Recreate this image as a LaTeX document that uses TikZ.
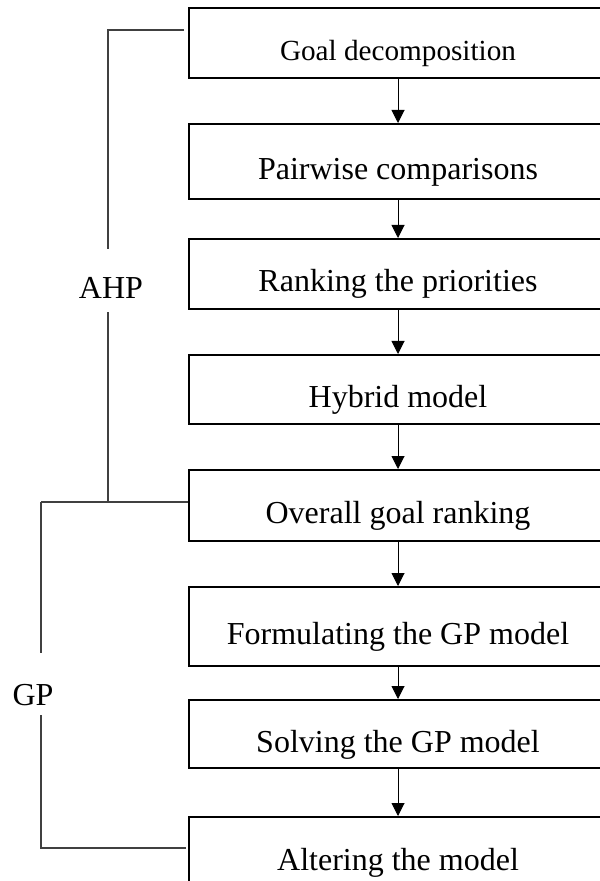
\documentclass[tikz,border=0pt]{standalone}
\usepackage{fontspec}
\setmainfont{Liberation Serif}
\usetikzlibrary{positioning}
\usetikzlibrary{arrows.meta}

\begin{document}
\begin{tikzpicture}[stage/.style={draw, line width=1pt, fill=white, minimum width=209pt, minimum height=35pt, text height=18pt, text depth=0pt, font=\fontsize{16}{19}\selectfont}, flow/.style={-{Triangle[length=6.5pt,width=6.5pt]}, line width=0.5pt}, brace/.style={draw=black!75, line width=0.6pt}, tag/.style={font=\fontsize{16}{19}\selectfont, inner sep=0pt, minimum height=31.5pt, text height=18pt, text depth=0pt}]
	\useasboundingbox (0,0) rectangle (299.5pt,-440.5pt);
	% the steps
	\node [stage, anchor=north, font=\fontsize{14.6}{17}\selectfont] (goal) at (199pt,-3.5pt) {Goal decomposition};
	\node [stage, below=22pt of goal, minimum height=37.5pt] (pair) {Pairwise comparisons};
	\node [stage, below=19pt of pair] (rank) {Ranking the priorities};
	\node [stage, below=22pt of rank, minimum height=34.5pt] (hybrid) {Hybrid model};
	\node [stage, below=22pt of hybrid, minimum height=35.5pt] (overall) {Overall goal ranking};
	\node [stage, below=22pt of overall, minimum height=39.5pt] (form) {Formulating the GP model};
	\node [stage, below=16pt of form, minimum height=34pt] (solve) {Solving the GP model};
	\node [stage, below=23.5pt of solve] (alter) {Altering the model};
	\foreach \a/\b in {goal/pair, pair/rank, rank/hybrid, hybrid/overall, overall/form, form/solve, solve/alter}
		\draw [flow] (\a) -- (\b);
	% the two brackets
	\coordinate (ahptop) at (92pt,-15pt);
	\coordinate (ahpjoin) at (54pt,-251pt);
	\coordinate (gpjoin) at (20.5pt,-251pt);
	\coordinate (gpend) at (93pt,-424pt);
	\node [tag] (ahp) at (55.5pt,-140.25pt) {AHP};
	\node [tag, minimum height=31pt, text height=21pt] (gp) at (16.5pt,-342pt) {GP};
	\draw [brace] (ahptop) -| (ahp.north -| ahpjoin);
	\draw [brace] (ahp.south -| ahpjoin) -- (ahpjoin);
	\draw [brace] (gpjoin) -- (overall.west |- gpjoin);
	\draw [brace] (gpjoin) -- (gp.north -| gpjoin);
	\draw [brace] (gp.south -| gpjoin) |- (gpend);
\end{tikzpicture}
\end{document}
